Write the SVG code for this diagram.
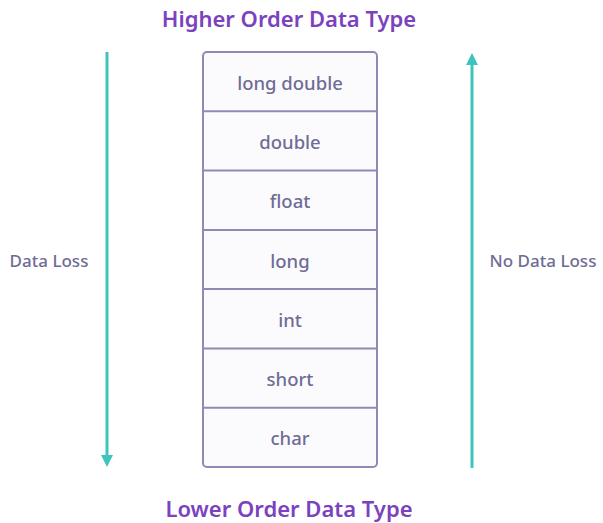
<svg xmlns="http://www.w3.org/2000/svg" width="603" height="523" viewBox="0 0 603 523">
<defs>
<marker id="ah" markerWidth="12" markerHeight="12" refX="6" refY="6" orient="auto" markerUnits="userSpaceOnUse" viewBox="0 0 12 12">
<path d="M0,0 L12,6 L0,12 Z" fill="#3fc3bd"/>
</marker>
<style>
.title{font-family:"Noto Sans","Open Sans",sans-serif;font-weight:600;font-size:22px;fill:#7b42c0;text-anchor:middle}
.cell{fill:#fbfbfd;stroke:#8e8ab3;stroke-width:2}
.lbl{font-family:"Noto Sans","Open Sans",sans-serif;font-weight:500;font-size:18.5px;fill:#6f6c95;text-anchor:middle}
.side{font-family:"Noto Sans","Open Sans",sans-serif;font-weight:500;font-size:17px;fill:#6f6c95;text-anchor:middle}
.arr{stroke:#3fc3bd;stroke-width:3;fill:none}
</style>
</defs>
<rect width="603" height="523" fill="#ffffff"/>
<text class="title" x="289" y="27">Higher Order Data Type</text>
<text class="title" x="289" y="517">Lower Order Data Type</text>
<g id="stack">
<rect x="203" y="52" width="174" height="415" rx="4" class="cell"/>
</g>
<g id="n-longdouble"><line x1="203" y1="111.3" x2="377" y2="111.3" class="cell"/><text class="lbl" x="290" y="90">long double</text></g>
<g id="n-double"><line x1="203" y1="170.6" x2="377" y2="170.6" class="cell"/><text class="lbl" x="290" y="149">double</text></g>
<g id="n-float"><line x1="203" y1="229.9" x2="377" y2="229.9" class="cell"/><text class="lbl" x="290" y="208">float</text></g>
<g id="n-long"><line x1="203" y1="289.1" x2="377" y2="289.1" class="cell"/><text class="lbl" x="290" y="268">long</text></g>
<g id="n-int"><line x1="203" y1="348.4" x2="377" y2="348.4" class="cell"/><text class="lbl" x="290" y="327">int</text></g>
<g id="n-short"><line x1="203" y1="407.7" x2="377" y2="407.7" class="cell"/><text class="lbl" x="290" y="386">short</text></g>
<g id="n-char"><text class="lbl" x="290" y="445">char</text></g>
<g id="connectors">
<line x1="107" y1="52" x2="107" y2="461" class="arr" marker-end="url(#ah)"/>
<line x1="472" y1="468" x2="472" y2="59" class="arr" marker-end="url(#ah)"/>
</g>
<text class="side" x="49" y="267">Data Loss</text>
<text class="side" x="543" y="267">No Data Loss</text>
</svg>
